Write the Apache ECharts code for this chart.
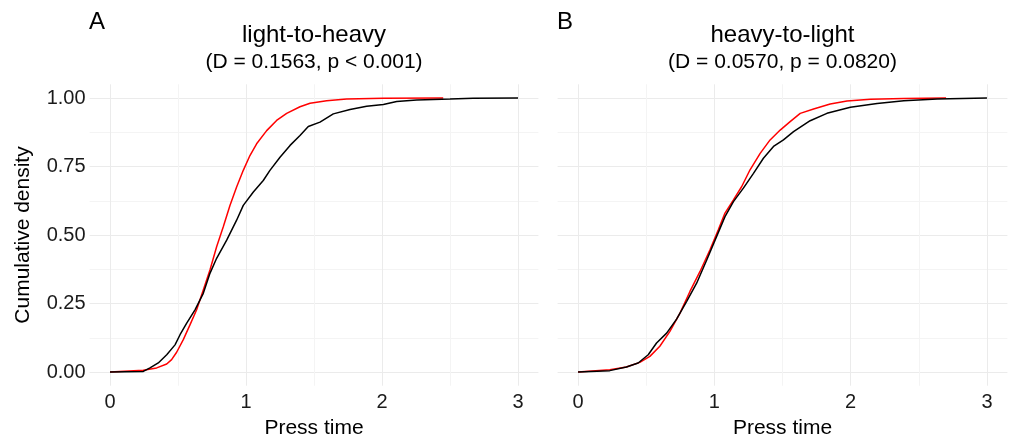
<!DOCTYPE html>
<html>
<head>
<meta charset="utf-8">
<script src="https://cdn.jsdelivr.net/npm/echarts@6/dist/echarts.min.js"></script>
<style>
html,body{margin:0;padding:0;background:#fff;}
#chart{width:1011px;height:435px;}
</style>
</head>
<body>
<div id="chart"></div>
<script>
// ---------- data ----------
const panelTags = ['A', 'B'];
const panelTitles = ['light-to-heavy', 'heavy-to-light'];
const panelSubtitles = ['(D = 0.1563, p < 0.001)', '(D = 0.0570, p = 0.0820)'];
const xTicks = [0, 1, 2, 3];
const xMinorTicks = [0.5, 1.5, 2.5];
const yTicks = [0, 0.25, 0.5, 0.75, 1];
const yMinorTicks = [0.125, 0.375, 0.625, 0.875];

// Panel A (light-to-heavy) ECDF readings [press time, cumulative density]
const aRed = [
  [0,0],[0.245,0.006],[0.343,0.015],[0.417,0.029],[0.453,0.045],[0.49,0.072],
  [0.539,0.118],[0.588,0.172],[0.637,0.227],[0.686,0.299],[0.735,0.372],
  [0.784,0.457],[0.833,0.53],[0.882,0.608],[0.931,0.675],[0.98,0.736],
  [1.029,0.79],[1.078,0.833],[1.152,0.881],[1.225,0.918],[1.299,0.944],
  [1.397,0.968],[1.471,0.981],[1.593,0.99],[1.74,0.996],[2.01,0.999],[2.45,1.0]
];
const aBlack = [
  [0,0],[0.245,0.002],[0.294,0.015],[0.355,0.033],[0.417,0.063],[0.478,0.099],
  [0.515,0.136],[0.564,0.178],[0.625,0.227],[0.686,0.287],[0.735,0.36],
  [0.784,0.415],[0.858,0.481],[0.931,0.554],[0.98,0.608],[1.054,0.657],
  [1.127,0.699],[1.176,0.736],[1.25,0.784],[1.324,0.827],[1.397,0.863],
  [1.458,0.896],[1.544,0.912],[1.642,0.942],[1.765,0.958],[1.887,0.97],
  [2.01,0.976],[2.108,0.987],[2.255,0.993],[2.5,0.996],[2.67,0.999],[3.0,1.0]
];
// Panel B (heavy-to-light)
const bRed = [
  [0,0],[0.233,0.0085],[0.355,0.018],[0.453,0.035],[0.527,0.057],[0.6,0.094],
  [0.674,0.148],[0.748,0.215],[0.821,0.294],[0.895,0.367],[0.968,0.446],
  [1.029,0.519],[1.078,0.58],[1.14,0.628],[1.201,0.677],[1.262,0.738],
  [1.336,0.798],[1.409,0.847],[1.483,0.883],[1.556,0.914],[1.63,0.944],
  [1.728,0.96],[1.85,0.978],[1.973,0.989],[2.145,0.995],[2.39,0.998],[2.7,1.0]
];
const bBlack = [
  [0,0],[0.233,0.005],[0.355,0.018],[0.441,0.033],[0.515,0.063],[0.576,0.106],
  [0.65,0.142],[0.723,0.193],[0.797,0.258],[0.87,0.324],[0.944,0.409],
  [1.017,0.495],[1.078,0.567],[1.14,0.622],[1.213,0.671],[1.287,0.725],
  [1.36,0.78],[1.434,0.823],[1.507,0.847],[1.581,0.877],[1.703,0.917],
  [1.826,0.944],[1.998,0.966],[2.194,0.98],[2.39,0.99],[2.635,0.996],[3.0,1.0]
];
const panelSeries = [[aRed, aBlack], [bRed, bBlack]];

// ---------- layout ----------
const FONT = '"Liberation Sans", Arial, sans-serif';
const grids = [
  {left: 89.6, top: 84.3, width: 448.8, height: 301.4, outerBoundsMode: 'none', containLabel: false},
  {left: 557.6, top: 84.3, width: 449.8, height: 301.4, outerBoundsMode: 'none', containLabel: false}
];
const MAJOR = '#EBEBEB', MINOR = '#F4F4F4';

const option = {
  animation: false,
  backgroundColor: '#ffffff',
  title: [],
  grid: [],
  xAxis: [],
  yAxis: [],
  series: []
};

grids.forEach((g, i) => {
  const cx = g.left + g.width / 2;
  option.grid.push(g);
  option.title.push(
    {text: panelTags[i], left: g.left - 0.5, top: 10, padding: 0,
     textStyle: {fontFamily: FONT, fontSize: 24, fontWeight: 'normal', color: '#000'}},
    {text: panelTitles[i], left: cx, top: 23, textAlign: 'center', padding: 0,
     textStyle: {fontFamily: FONT, fontSize: 24, fontWeight: 'normal', color: '#000'}},
    {text: panelSubtitles[i], left: cx, top: 52, textAlign: 'center', padding: 0,
     textStyle: {fontFamily: FONT, fontSize: 21, fontWeight: 'normal', color: '#000'}}
  );
  // minor axes (grid lines only)
  option.xAxis.push({
    type: 'value', gridIndex: i, min: -0.15, max: 3.15, position: 'bottom',
    axisLine: {show: false, onZero: false}, axisTick: {show: false, customValues: xMinorTicks},
    axisLabel: {show: false, customValues: xMinorTicks},
    splitLine: {show: true, lineStyle: {color: MINOR, width: 1}}
  });
  option.yAxis.push({
    type: 'value', gridIndex: i, min: -0.05, max: 1.05, position: 'left',
    axisLine: {show: false, onZero: false}, axisTick: {show: false, customValues: yMinorTicks},
    axisLabel: {show: false, customValues: yMinorTicks},
    splitLine: {show: true, lineStyle: {color: MINOR, width: 1}}
  });
  // major axes
  option.xAxis.push({
    type: 'value', gridIndex: i, min: -0.15, max: 3.15, position: 'bottom',
    name: 'Press time', nameLocation: 'middle', nameGap: 27,
    nameTextStyle: {fontFamily: FONT, fontSize: 21, color: '#000'},
    axisLine: {show: false, onZero: false}, axisTick: {show: false, customValues: xTicks},
    axisLabel: {customValues: xTicks, margin: 7, fontFamily: FONT, fontSize: 20, color: '#1a1a1a',
                formatter: v => String(v)},
    splitLine: {show: true, lineStyle: {color: MAJOR, width: 1}}
  });
  option.yAxis.push({
    type: 'value', gridIndex: i, min: -0.05, max: 1.05, position: 'left',
    name: i === 0 ? 'Cumulative density' : '', nameLocation: 'middle', nameGap: 56,
    nameTextStyle: {fontFamily: FONT, fontSize: 21, color: '#000'},
    axisLine: {show: false, onZero: false}, axisTick: {show: false, customValues: yTicks},
    axisLabel: {show: i === 0, customValues: yTicks, margin: 4, fontFamily: FONT, fontSize: 20, color: '#1a1a1a',
                formatter: v => v.toFixed(2)},
    splitLine: {show: true, lineStyle: {color: MAJOR, width: 1}}
  });
  const colors = ['#FF0000', '#000000'];
  panelSeries[i].forEach((d, k) => {
    option.series.push({
      type: 'line', xAxisIndex: i * 2 + 1, yAxisIndex: i * 2 + 1,
      data: d, showSymbol: false, symbol: 'none', silent: true,
      lineStyle: {color: colors[k], width: 1.5}, z: 2 + k
    });
  });
});

const chart = echarts.init(document.getElementById('chart'), null, {renderer: 'canvas'});
chart.setOption(option);
</script>
</body>
</html>
